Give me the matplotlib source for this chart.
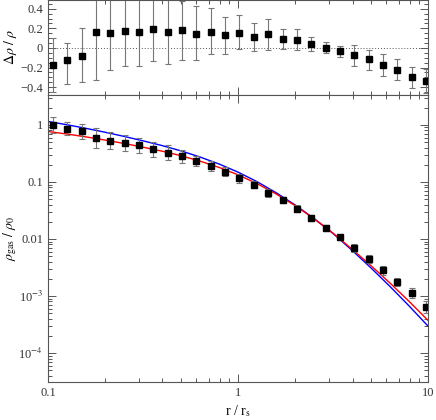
import numpy as np
import matplotlib
matplotlib.use("Agg")
import matplotlib.pyplot as plt
from matplotlib.ticker import NullFormatter, MultipleLocator

plt.rcParams['font.family'] = ['Liberation Serif', 'DejaVu Serif']
plt.rcParams['mathtext.fontset'] = 'stix'

# radii of the binned points (r / r_s)
r = [0.1062, 0.1263, 0.1503, 0.1789, 0.2128, 0.2532, 0.3013, 0.3584, 0.4266,
     0.5076, 0.604, 0.7186, 0.855, 1.017, 1.211, 1.441, 1.714, 2.039, 2.427,
     2.887, 3.436, 4.088, 4.864, 5.787, 6.887, 8.195, 9.75]

# residuals, top panel
resid = [-0.174, -0.12, -0.079, 0.164, 0.157, 0.178, 0.164, 0.198, 0.167, 0.181,
         0.147, 0.167, 0.129, 0.156, 0.112, 0.139, 0.092, 0.085, 0.041, 0.003,
         -0.035, -0.076, -0.116, -0.174, -0.222, -0.30, -0.337]
resid_lo = [0.28, 0.25, 0.27, 0.49, 0.38, 0.36, 0.345, 0.33, 0.33, 0.30, 0.27,
            0.225, 0.19, 0.17, 0.14, 0.16, 0.10, 0.11, 0.07, 0.05, 0.055, 0.105,
            0.11, 0.11, 0.11, 0.11, 0.12]
resid_hi = [0.28, 0.17, 0.28, 0.49, 0.38, 0.36, 0.345, 0.33, 0.33, 0.30, 0.28,
            0.24, 0.19, 0.18, 0.14, 0.16, 0.10, 0.11, 0.07, 0.055, 0.06, 0.105,
            0.10, 0.11, 0.11, 0.11, 0.12]

# gas density, bottom panel
rho = [0.98, 0.86, 0.775, 0.59, 0.53, 0.48, 0.435, 0.37, 0.327, 0.279, 0.234,
       0.189, 0.152, 0.115, 0.09, 0.065, 0.048, 0.0337, 0.0232, 0.0156, 0.0106,
       0.00689, 0.00442, 0.00283, 0.00175, 0.00112, 0.000645]
rho_err_dex = [0.14, 0.117, 0.13, 0.175, 0.144, 0.146, 0.128, 0.126, 0.126, 0.114,
               0.093, 0.082, 0.084, 0.082, 0.064, 0.07, 0.058, 0.064, 0.05, 0.053,
               0.047, 0.076, 0.07, 0.076, 0.07, 0.09, 0.11]

# model curves, read as log10 values every 0.1 dex in r
logr_model = [-1.0, -0.9, -0.8, -0.7, -0.6, -0.5, -0.4, -0.3, -0.2, -0.1, 0.0,
              0.1, 0.2, 0.3, 0.4, 0.5, 0.6, 0.7, 0.8, 0.9, 1.0]
logrho_blue = [0.06, 0.002, -0.061, -0.129, -0.202, -0.28, -0.363, -0.456, -0.564,
               -0.686, -0.829, -0.996, -1.189, -1.404, -1.643, -1.906, -2.201,
               -2.511, -2.836, -3.176, -3.531]
logrho_red = [-0.116, -0.161, -0.211, -0.266, -0.326, -0.391, -0.461, -0.541,
              -0.636, -0.746, -0.876, -1.031, -1.211, -1.416, -1.646, -1.901,
              -2.181, -2.471, -2.776, -3.096, -3.431]

rho = np.array(rho)
d = np.array(rho_err_dex)
rho_yerr = [rho - rho * 10**(-d), rho * 10**d - rho]

grey = '#555555'
fig = plt.figure(figsize=(4.36, 4.20), dpi=100)
ax1 = fig.add_axes([0.110, 0.774, 0.872, 0.226])
ax2 = fig.add_axes([0.110, 0.0905, 0.872, 0.6835])

for ax in (ax1, ax2):
    ax.set_xscale('log')
    ax.set_xlim(0.1, 10)
    ax.tick_params(which='both', direction='in', top=True, right=True,
                   color=grey, labelsize=9, width=0.7, labelcolor='#333333')
    ax.tick_params(which='major', length=6)
    ax.tick_params(which='minor', length=3)
    for s in ax.spines.values():
        s.set_color(grey)
        s.set_linewidth(0.8)

# top panel
ax1.axhline(0, color=grey, ls=(0, (1, 2)), lw=0.7)
ax1.errorbar(r, resid, yerr=[resid_lo, resid_hi], fmt='s', color='black', ms=4.3,
             ecolor='#777777', elinewidth=0.8, capsize=2.2, capthick=0.8)
ax1.set_ylim(-0.48, 0.49)
ax1.yaxis.set_minor_locator(MultipleLocator(0.05))
ax1.set_yticks([-0.4, -0.2, 0, 0.2, 0.4])
ax1.set_yticklabels(['\u22120.4', '\u22120.2', '0', '0.2', '0.4'])
ax1.xaxis.set_major_formatter(NullFormatter())
ax1.xaxis.set_minor_formatter(NullFormatter())
ax1.set_ylabel(r'$\Delta\rho\ /\ \rho$', fontsize=10)
ax1.yaxis.set_label_coords(-0.075, 0.5)

# bottom panel
ax2.set_yscale('log')
ax2.plot(10**np.array(logr_model), 10**np.array(logrho_blue), color='blue', lw=1.0)
ax2.plot(10**np.array(logr_model), 10**np.array(logrho_red), color='red', lw=1.0)
ax2.errorbar(r, rho, yerr=rho_yerr, fmt='s', color='black', ms=4.3,
             ecolor='#777777', elinewidth=0.8, capsize=2.2, capthick=0.8)
ax2.set_ylim(3.1e-5, 3.35)
ax2.set_yticks([1e-4, 1e-3, 1e-2, 0.1, 1])
ax2.set_yticklabels([r'10$^{-4}$', r'10$^{-3}$', '0.01', '0.1', '1'])
ax2.set_xticks([0.1, 1, 10])
ax2.set_xticklabels(['0.1', '1', '10'])
ax2.xaxis.set_minor_formatter(NullFormatter())
ax2.yaxis.set_minor_formatter(NullFormatter())
ax2.set_ylabel(r'$\rho_{\rm gas}\ /\ \rho_0$', fontsize=10)
ax2.yaxis.set_label_coords(-0.075, 0.5)
ax2.set_xlabel(r'r / r$_{\rm s}$', fontsize=10, labelpad=3)

fig.savefig('out.png', dpi=100)
